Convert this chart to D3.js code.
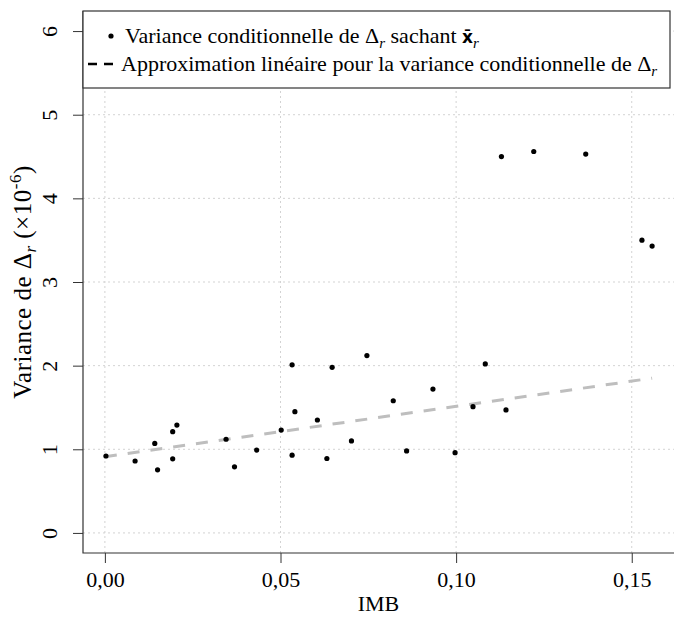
<!DOCTYPE html>
<html lang="fr">
<head>
<meta charset="UTF-8">
<title>Variance conditionnelle</title>
<script src="https://cdn.jsdelivr.net/npm/d3@7/dist/d3.min.js"></script>
<style>
    body { margin: 0; background: #fff; }
    #chart text { font-family: "Liberation Serif", "Times New Roman", serif; fill: #000; }
</style>
</head>
<body>
<div id="chart"></div>
<script>
    // points (IMB, variance x1e-6)
    const imb = [0.0003, 0.0086, 0.0142, 0.0150, 0.0193, 0.0205, 0.0193, 0.0345, 0.0369, 0.0432,
                 0.0502, 0.0533, 0.0541, 0.0533, 0.0605, 0.0632, 0.0647, 0.0702, 0.0746, 0.0821,
                 0.0859, 0.0934, 0.0997, 0.1048, 0.1142, 0.1083, 0.1129, 0.1221, 0.1369, 0.1529, 0.1558];
    const variance = [0.92, 0.86, 1.07, 0.755, 1.21, 1.29, 0.886, 1.12, 0.79, 0.99,
                      1.23, 2.01, 1.45, 0.93, 1.35, 0.89, 1.98, 1.10, 2.12, 1.58,
                      0.98, 1.72, 0.96, 1.51, 1.47, 2.02, 4.50, 4.56, 4.53, 3.50, 3.43];
    // linear approximation, ends
    const fitX = [0, 0.1558];
    const fitY = [0.91, 1.85];
    const xTicks = [0, 0.05, 0.10, 0.15];
    const yTicks = [0, 1, 2, 3, 4, 5, 6];

    const W = 678, H = 621;
    const pL = 83, pR = 674, pT = 11, pB = 553;
    const fs = 22;
    const serif = '"Liberation Serif", "Times New Roman", serif';

    const svg = d3.select("#chart").append("svg").attr("width", W).attr("height", H);

    const xlo = 0, xhi = d3.max(imb);
    const pad = 0.04 * (xhi - xlo);
    const x = d3.scaleLinear().domain([xlo - pad, xhi + pad]).range([pL, pR]);
    const y = d3.scaleLinear().domain([-0.24, 6.24]).range([pB, pT]);

    // grid
    svg.append("g").selectAll("line").data(xTicks).join("line")
        .attr("x1", d => x(d)).attr("x2", d => x(d))
        .attr("y1", pT).attr("y2", pB)
        .attr("stroke", "#d3d3d3").attr("stroke-dasharray", "2,3");
    svg.append("g").selectAll("line").data(yTicks).join("line")
        .attr("x1", pL).attr("x2", pR)
        .attr("y1", d => y(d)).attr("y2", d => y(d))
        .attr("stroke", "#d3d3d3").attr("stroke-dasharray", "2,3");

    // fitted line
    const fit = fitX.map((v, i) => [v, fitY[i]]);
    svg.append("path").datum(fit)
        .attr("d", d3.line().x(d => x(d[0])).y(d => y(d[1])))
        .attr("fill", "none").attr("stroke", "#bebebe")
        .attr("stroke-width", 3).attr("stroke-dasharray", "12,11");

    // points
    svg.append("g").selectAll("circle").data(imb.map((v, i) => [v, variance[i]])).join("circle")
        .attr("cx", d => x(d[0])).attr("cy", d => y(d[1])).attr("r", 2.6)
        .attr("fill", "#000");

    // axes
    const xAxis = svg.append("g").attr("transform", `translate(0,${pB})`)
        .call(d3.axisBottom(x).tickValues(xTicks).tickSize(10).tickPadding(8)
            .tickFormat(d => d3.format(".2f")(d).replace(".", ",")))
        .attr("font-family", serif).attr("font-size", fs);
    xAxis.select(".domain").remove();
    xAxis.selectAll("line").attr("stroke", "#333");
    xAxis.selectAll("text").attr("dy", "0.71em");

    const yAxis = svg.append("g").attr("transform", `translate(${pL},0)`)
        .call(d3.axisLeft(y).tickValues(yTicks).tickSize(10).tickFormat(d3.format("d")))
        .attr("font-family", serif).attr("font-size", fs);
    yAxis.select(".domain").remove();
    yAxis.selectAll("line").attr("stroke", "#333");
    yAxis.selectAll("text")
        .attr("text-anchor", "middle")
        .attr("x", null).attr("dy", null)
        .attr("transform", "translate(-26,0) rotate(-90)");

    // L box
    svg.append("path")
        .attr("d", `M${pL},${pT}V${pB}H${pR}`)
        .attr("fill", "none").attr("stroke", "#333").attr("stroke-width", 1.2);

    // axis titles
    svg.append("text").attr("x", (pL + pR) / 2).attr("y", 611)
        .attr("text-anchor", "middle").attr("font-size", fs).text("IMB");

    const yt = svg.append("text")
        .attr("transform", `translate(31,${(pT + pB) / 2}) rotate(-90)`)
        .attr("text-anchor", "middle").attr("font-size", 25)
        .attr("letter-spacing", 0.5);
    yt.append("tspan").text("Variance de \u0394");
    yt.append("tspan").attr("font-size", 17).attr("font-style", "italic").attr("dy", 5).text("r");
    yt.append("tspan").attr("dy", -5).text(" (\u00d710");
    yt.append("tspan").attr("font-size", 17).attr("dy", -10).text("-6");
    yt.append("tspan").attr("dy", 10).text(")");

    // legend
    const lg = svg.append("g");
    lg.append("rect").attr("x", pL).attr("y", pT).attr("width", 670 - pL).attr("height", 88 - pT)
        .attr("fill", "#fff").attr("stroke", "#333").attr("stroke-width", 1.2);
    lg.append("circle").attr("cx", 111).attr("cy", 36).attr("r", 2.6).attr("fill", "#000");
    lg.append("line").attr("x1", 88).attr("x2", 120).attr("y1", 64).attr("y2", 64)
        .attr("stroke", "#000").attr("stroke-width", 2.5).attr("stroke-dasharray", "9,7");

    const t1 = lg.append("text").attr("x", 125).attr("y", 43).attr("font-size", fs);
    t1.append("tspan").text("Variance conditionnelle de \u0394");
    t1.append("tspan").attr("font-size", 15).attr("font-style", "italic").attr("dy", 5).text("r");
    t1.append("tspan").attr("dy", -5).text(" sachant ");
    t1.append("tspan").attr("font-weight", "bold").attr("font-family", "DejaVu Sans").attr("font-size", 17).text("x\u0304");
    t1.append("tspan").attr("font-size", 15).attr("font-style", "italic").attr("dy", 5).text("r");

    const t2 = lg.append("text").attr("x", 121).attr("y", 71).attr("font-size", fs);
    t2.append("tspan").text("Approximation linéaire pour la variance conditionnelle de \u0394");
    t2.append("tspan").attr("font-size", 15).attr("font-style", "italic").attr("dy", 5).text("r");
</script>
</body>
</html>
